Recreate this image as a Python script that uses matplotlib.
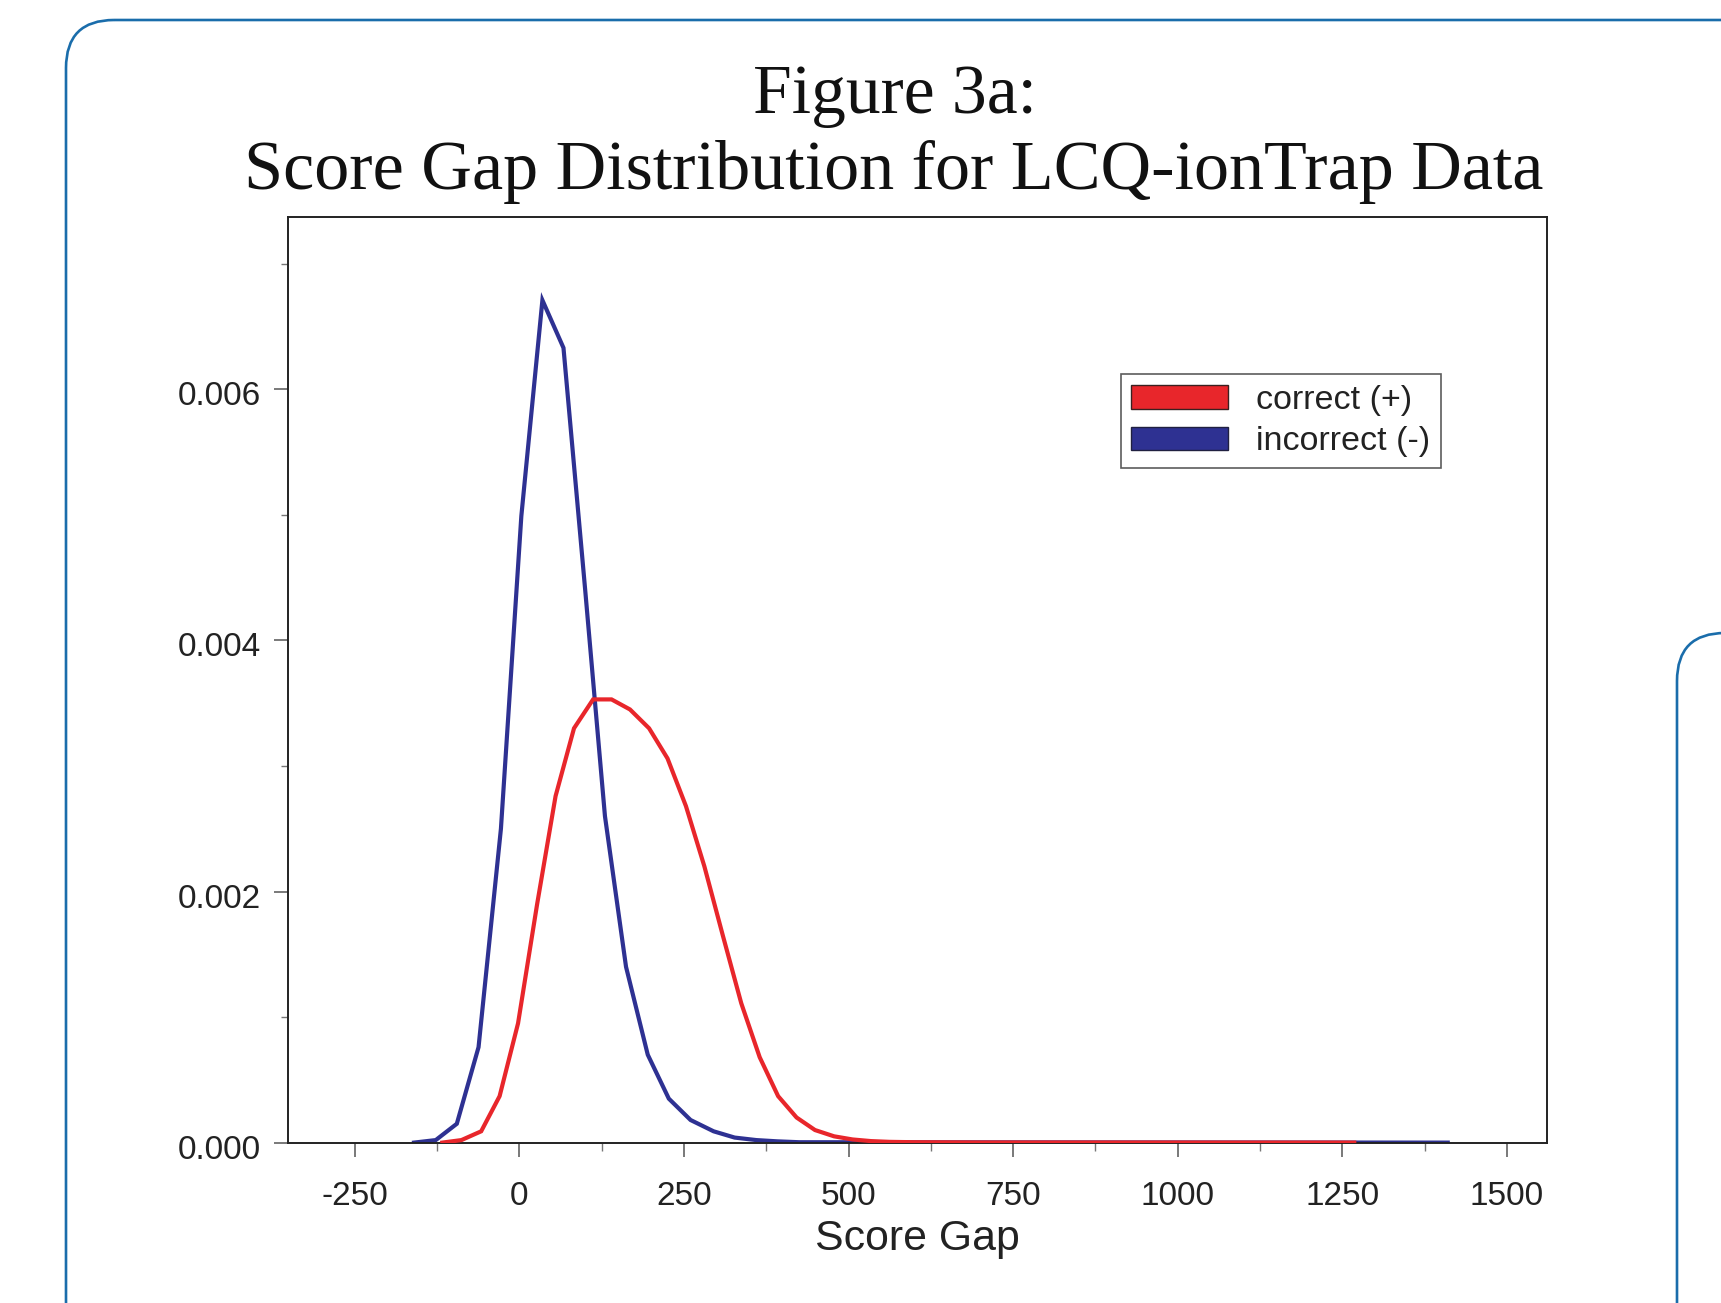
import matplotlib
matplotlib.use("Agg")
import matplotlib.pyplot as plt
import matplotlib.transforms as mtransforms
from matplotlib.patches import FancyBboxPatch, Patch
from matplotlib.ticker import MultipleLocator, FixedLocator

# ---- data ----
correct_x = [-117, -88, -58, -30, -2, 27, 55, 83, 112, 140, 168, 197, 225, 253,
             281, 309, 337, 365, 393, 421, 449, 478, 506, 534, 562, 600, 700, 1268]
correct_y = [0.0, 0.00002, 0.00009, 0.00037, 0.00095, 0.0019, 0.00276, 0.0033,
             0.00353, 0.00353, 0.00345, 0.0033, 0.00306, 0.00268, 0.0022, 0.00165,
             0.00111, 0.00068, 0.00037, 0.0002, 0.0001, 0.00005, 0.000025,
             0.000012, 0.000006, 0.000003, 0.000001, 0.0]
incorrect_x = [-160, -127, -95, -62, -28, 3, 35, 67, 100, 130, 162, 195, 227, 260,
               295, 327, 360, 392, 425, 1410]
incorrect_y = [0.0, 0.00002, 0.00015, 0.00076, 0.0025, 0.00499, 0.00671, 0.00633,
               0.0044, 0.0026, 0.0014, 0.0007, 0.00035, 0.00018, 0.00009, 0.00004,
               0.00002, 0.00001, 0.000003, 0.0]
series_labels = ["correct (+)", "incorrect (-)"]
series_colors = ["#e8262b", "#2e3192"]
x_ticks = [-250, 0, 250, 500, 750, 1000, 1250, 1500]
y_ticks = [0.000, 0.002, 0.004, 0.006]
title_lines = ["Figure 3a:", "Score Gap Distribution for LCQ-ionTrap Data"]
x_label = "Score Gap"

W, H = 1721, 1303
fig = plt.figure(figsize=(W / 100, H / 100), dpi=100)
fig.patch.set_facecolor("white")

# background card frames (pixel coordinates)
bg = fig.add_axes([0, 0, 1, 1], zorder=0)
bg.set_xlim(0, W)
bg.set_ylim(H, 0)
bg.axis("off")
card_color = "#1a6dab"
bg.add_patch(FancyBboxPatch((66, 20), 2000, 1600,
                            boxstyle="round,pad=0,rounding_size=48",
                            fill=False, edgecolor=card_color, linewidth=1.9))
bg.add_patch(FancyBboxPatch((1677, 633), 500, 1000,
                            boxstyle="round,pad=0,rounding_size=48",
                            fill=False, edgecolor=card_color, linewidth=1.9))

# titles
serif = ["Liberation Serif", "DejaVu Serif"]
fig.text(0.520, 0.9135, title_lines[0], ha="center", va="baseline",
         fontsize=50, family=serif, color="#111111")
fig.text(0.519, 0.855, title_lines[1], ha="center", va="baseline",
         fontsize=50.5, family=serif, color="#111111")

# main axes
ax = fig.add_axes([287.6 / W, 160.4 / H, (1546.5 - 287.6) / W, (1142.6 - 217.3) / H],
                  zorder=1)
sans = ["Liberation Sans", "DejaVu Sans"]
ax.plot(correct_x, correct_y, color=series_colors[0], linewidth=3.0,
        solid_joinstyle="miter", zorder=3)
ax.plot(incorrect_x, incorrect_y, color=series_colors[1], linewidth=3.0,
        solid_joinstyle="miter", zorder=2)

ax.set_xlim(-352, 1560)
ax.set_ylim(0, 0.00737)
ax.xaxis.set_major_locator(FixedLocator(x_ticks))
ax.xaxis.set_minor_locator(MultipleLocator(125))
ax.yaxis.set_major_locator(FixedLocator(y_ticks))
ax.yaxis.set_minor_locator(MultipleLocator(0.001))
ax.set_xticklabels([str(v) for v in x_ticks])
ax.set_yticklabels([f"{v:.3f}" for v in y_ticks])

for s in ax.spines.values():
    s.set_linewidth(1.4)
    s.set_color("#222222")

ax.tick_params(axis="x", which="major", direction="out", length=10, width=1.1,
               color="#555555", pad=18, labelsize=24, labelcolor="#222222")
ax.tick_params(axis="x", which="minor", direction="out", length=6, width=1.0,
               color="#777777")
ax.tick_params(axis="y", which="major", direction="out", length=10, width=1.1,
               color="#555555", pad=9, labelsize=24, labelcolor="#222222")
ax.tick_params(axis="y", which="minor", direction="out", length=5, width=1.0,
               color="#777777")
for lab in ax.get_xticklabels() + ax.get_yticklabels():
    lab.set_family(sans)
shift = mtransforms.ScaledTranslation(0, -4 / 100, fig.dpi_scale_trans)
for lab in ax.get_yticklabels():
    lab.set_transform(lab.get_transform() + shift)

ax.set_xlabel(x_label, fontsize=30.8, family=sans, color="#222222", labelpad=5)

handles = [Patch(facecolor=series_colors[0], edgecolor="#3a2020", linewidth=1.0),
           Patch(facecolor=series_colors[1], edgecolor="#202040", linewidth=1.0)]
leg = ax.legend(handles, series_labels, loc="upper left",
                bbox_to_anchor=((1120.5 - 287.6) / (1546.5 - 287.6),
                                1 - (374.3 - 217.3) / (1142.6 - 217.3)),
                frameon=True, fancybox=False, edgecolor="#333333",
                prop={"family": sans, "size": 24.5}, handlelength=2.85,
                handleheight=0.7, handletextpad=0.8, labelspacing=0.3,
                borderpad=0.32, borderaxespad=0.0)
leg._legend_box.align = "left"
leg.get_frame().set_linewidth(1.2)
for t in leg.get_texts():
    t.set_color("#222222")

fig.canvas.draw()
# widen frame slightly to the right like the reference
bb = leg.get_frame().get_bbox()
leg.get_frame().set_width(leg.get_frame().get_width() + 4)

fig.savefig("out.png", dpi=100, facecolor="white")
